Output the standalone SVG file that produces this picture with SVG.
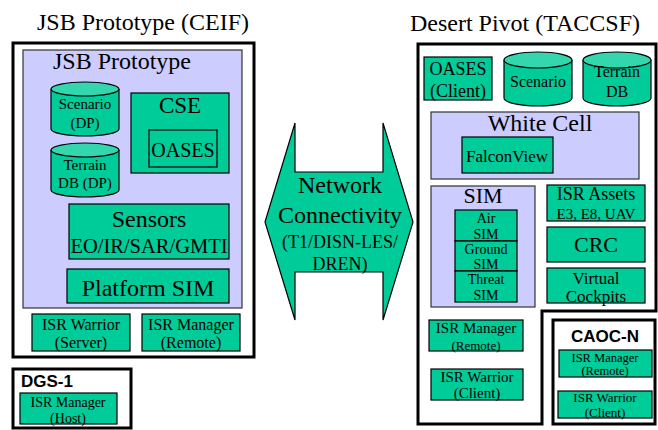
<svg xmlns="http://www.w3.org/2000/svg" width="658" height="430" viewBox="0 0 658 430">
<style>
text{font-family:"Liberation Serif","Times New Roman",serif;fill:#000;text-anchor:middle}
.b{font-family:"Liberation Sans",Arial,sans-serif;font-weight:bold}
.g{fill:#00CC99;stroke:#000;stroke-width:1.2}
.lav{fill:#CCCCFF;stroke:#333;stroke-width:1.2}
.out{fill:#fff;stroke:#000;stroke-width:3}
.top{fill:#33D6AD;stroke:#000;stroke-width:1.2}
</style>
<rect width="658" height="430" fill="#fff"/>
<text x="143" y="30" font-size="24">JSB Prototype (CEIF)</text>
<text x="525" y="31" font-size="24">Desert Pivot (TACCSF)</text>

<g id="ceif">
<rect class="out" x="13" y="43" width="241" height="314"/>
<rect class="lav" x="23" y="50" width="219" height="258"/>
<text x="122" y="69" font-size="24">JSB Prototype</text>
</g>
<g id="scenario-dp">
<path class="g" d="M51,89 V129 A34,7 0 0 0 119,129 V89"/>
<ellipse class="top" cx="85" cy="89" rx="34" ry="7"/>
<text x="85" y="109" font-size="15">Scenario</text>
<text x="85" y="128" font-size="15">(DP)</text>
</g>
<g id="terrain-dp">
<path class="g" d="M51,150 V190 A34,7 0 0 0 119,190 V150"/>
<ellipse class="top" cx="85" cy="150" rx="34" ry="7"/>
<text x="85" y="170" font-size="15">Terrain</text>
<text x="85" y="188" font-size="15">DB (DP)</text>
</g>
<g id="cse">
<rect class="g" x="131" y="93" width="98" height="80"/>
<text x="180" y="113" font-size="23">CSE</text>
<rect class="g" x="149" y="130" width="68" height="37"/>
<text x="183" y="157" font-size="20">OASES</text>
</g>
<g id="sensors">
<rect class="g" x="69" y="204" width="160" height="55"/>
<text x="149" y="227" font-size="24">Sensors</text>
<text x="149" y="253" font-size="20.5">EO/IR/SAR/GMTI</text>
</g>
<g id="platform-sim">
<rect class="g" x="67" y="269" width="162" height="34"/>
<text x="148" y="296" font-size="24">Platform SIM</text>
</g>
<g id="isr-warrior-server">
<rect class="g" x="32" y="314" width="98" height="37"/>
<text x="81" y="330" font-size="16">ISR Warrior</text>
<text x="81" y="348" font-size="16">(Server)</text>
</g>
<g id="isr-manager-remote-l">
<rect class="g" x="142" y="314" width="98" height="37"/>
<text x="191" y="330" font-size="16">ISR Manager</text>
<text x="191" y="348" font-size="16">(Remote)</text>
</g>
<g id="dgs1">
<rect class="out" x="13" y="369" width="118" height="59"/>
<text class="b" x="21" y="387" font-size="17" style="text-anchor:start">DGS-1</text>
<rect class="g" x="20" y="393" width="97" height="31"/>
<text x="68" y="407" font-size="14">ISR Manager</text>
<text x="68" y="423" font-size="14">(Host)</text>
</g>

<g id="connectors">
<path class="g" d="M265,222 L295,123 V172 H383 V123 L413,222 L383,320 V272 H295 V320 Z"/>
<text x="340" y="193" font-size="24">Network</text>
<text x="340" y="223" font-size="24">Connectivity</text>
<text x="340" y="248" font-size="18">(T1/DISN-LES/</text>
<text x="340" y="270" font-size="18">DREN)</text>
</g>

<g id="taccsf">
<path class="out" d="M418,44 H656 V311 H542 V424 H418 Z"/>
</g>
<g id="oases-client">
<rect class="g" x="424" y="57" width="68" height="43"/>
<text x="458" y="75" font-size="18">OASES</text>
<text x="458" y="97" font-size="18">(Client)</text>
</g>
<g id="scenario">
<path class="g" d="M504,60 V98 A34,8 0 0 0 572,98 V60"/>
<ellipse class="top" cx="538" cy="60" rx="34" ry="8"/>
<text x="538" y="87" font-size="16">Scenario</text>
</g>
<g id="terrain-db">
<path class="g" d="M583,60 V98 A34,8 0 0 0 651,98 V60"/>
<ellipse class="top" cx="617" cy="60" rx="34" ry="8"/>
<text x="617" y="77" font-size="16">Terrain</text>
<text x="617" y="97" font-size="16">DB</text>
</g>
<g id="white-cell">
<rect class="lav" x="431" y="112" width="208" height="67"/>
<text x="540" y="131" font-size="24">White Cell</text>
<rect class="g" x="462" y="137" width="91" height="36"/>
<text x="507" y="162" font-size="17">FalconView</text>
</g>
<g id="sim">
<rect class="lav" x="431" y="186" width="104" height="121"/>
<text x="483" y="203" font-size="22">SIM</text>
</g>
<g id="air-sim">
<rect class="g" x="455" y="210" width="62" height="31"/>
<text x="486" y="223" font-size="14">Air</text>
<text x="486" y="239" font-size="14">SIM</text>
</g>
<g id="ground-sim">
<rect class="g" x="455" y="241" width="62" height="30"/>
<text x="486" y="254" font-size="14">Ground</text>
<text x="486" y="269" font-size="14">SIM</text>
</g>
<g id="threat-sim">
<rect class="g" x="455" y="271" width="62" height="31"/>
<text x="486" y="284" font-size="14">Threat</text>
<text x="486" y="300" font-size="14">SIM</text>
</g>
<g id="isr-assets">
<rect class="g" x="547" y="185" width="98" height="36"/>
<text x="596" y="200" font-size="18">ISR Assets</text>
<text x="596" y="219" font-size="15">E3, E8, UAV</text>
</g>
<g id="crc">
<rect class="g" x="547" y="227" width="98" height="35"/>
<text x="596" y="252" font-size="22">CRC</text>
</g>
<g id="virtual-cockpits">
<rect class="g" x="547" y="268" width="98" height="35"/>
<text x="596" y="284" font-size="17">Virtual</text>
<text x="596" y="302" font-size="17">Cockpits</text>
</g>
<g id="isr-manager-remote-r">
<rect class="g" x="429" y="320" width="94" height="31"/>
<text x="476" y="333" font-size="15">ISR Manager</text>
<text x="476" y="350" font-size="13">(Remote)</text>
</g>
<g id="isr-warrior-client">
<rect class="g" x="431" y="369" width="92" height="31"/>
<text x="477" y="382" font-size="15">ISR Warrior</text>
<text x="477" y="398" font-size="15">(Client)</text>
</g>
<g id="caoc-n">
<rect class="out" x="553" y="320" width="102" height="104"/>
<text class="b" x="605" y="342" font-size="17">CAOC-N</text>
</g>
<g id="caoc-isr-manager">
<rect class="g" x="559" y="350" width="93" height="27"/>
<text x="605" y="362" font-size="12.5">ISR Manager</text>
<text x="605" y="375" font-size="12.5">(Remote)</text>
</g>
<g id="caoc-isr-warrior">
<rect class="g" x="558" y="391" width="94" height="27"/>
<text x="605" y="402" font-size="13">ISR Warrior</text>
<text x="605" y="417" font-size="13">(Client)</text>
</g>
</svg>
